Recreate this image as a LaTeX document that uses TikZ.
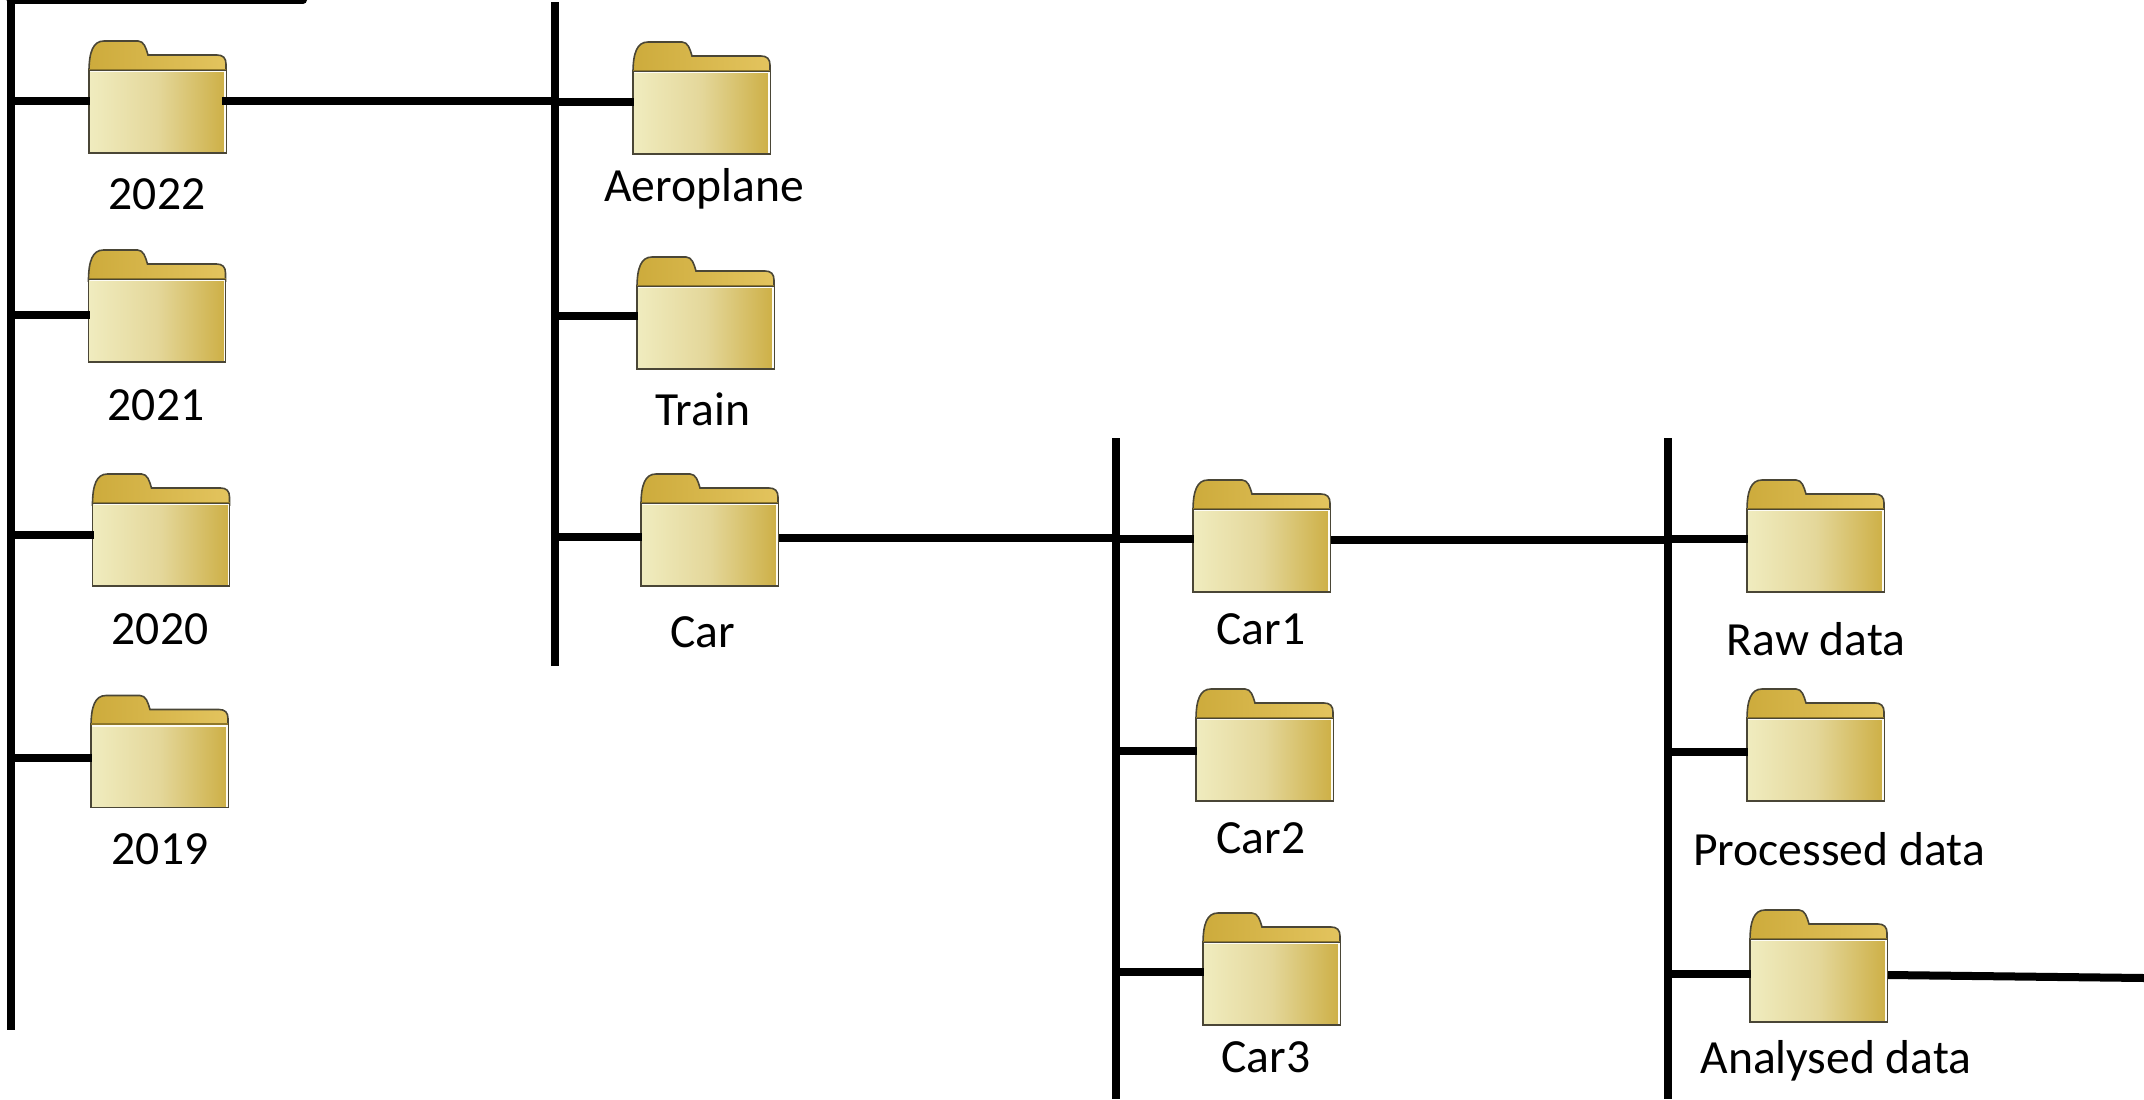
\documentclass[tikz,border=0pt]{standalone}
\usepackage{fontspec}
\setmainfont{Carlito}
\definecolor{foldL}{HTML}{F0ECBF}
\definecolor{foldM}{HTML}{E4D79A}
\definecolor{foldR}{HTML}{CDAF45}
\definecolor{tabA}{HTML}{CDAB3C}
\definecolor{tabB}{HTML}{E3C45E}
\definecolor{foldE}{HTML}{4A4636}
\tikzset{
  foldbox/.style={minimum width=69.5pt,minimum height=57pt,inner sep=0pt,outer sep=0pt,rectangle},
  foldtab/.style={left color=tabA,right color=tabB,draw=foldE,line width=0.8pt},
  foldbody/.style={left color=foldL,right color=foldR,middle color=foldM,draw=foldE,line width=0.8pt},
  folddiv/.style={color=tabA!70!black,line width=0.7pt},
  foldhi/.style={color=white!85!foldL,line width=0.6pt},
  lab/.style={font=\fontsize{23.8pt}{27pt}\selectfont,inner sep=0pt,text=black},
  bus/.style={line width=4pt,color=black},
  busr/.style={line width=4pt,color=black,line cap=round}
}
\newcommand{\fold}[3]{%
  \begin{scope}[shift={(#2,#3)}]
    \path[foldtab]
      (1,32) .. controls (1,12) and (5,1) .. (16,1) -- (50,1)
      .. controls (56,1) and (58,8) .. (60,15) -- (129,15)
      .. controls (135,15) and (138,18) .. (138,24) -- (138,32) -- cycle;
    \path[foldbody] (1,30) -- (138,30) -- (138,113) -- (1,113) -- cycle;
    \draw[folddiv] (1,29.5) -- (138,29.5);
    \draw[foldhi] (2,31.5) -- (137,31.5) -- (137,112);
  \end{scope}
  \node[foldbox] (#1) at ({#2+69.5},{#3+57}) {};}
\begin{document}
\begin{tikzpicture}[x=0.5pt,y=-0.5pt]
\useasboundingbox (0,0) rectangle (2144,1099);
% bus end points
\coordinate (a0) at (10.5,0); \coordinate (a1) at (10.5,1030); \coordinate (top) at (303,0);
\coordinate (b0) at (555,2); \coordinate (b1) at (555,666);
\coordinate (c0) at (1116,438); \coordinate (c1) at (1116,1099);
\coordinate (d0) at (1668,438); \coordinate (d1) at (1668,1099);
\coordinate (endr) at (2144,978);
% junctions
\coordinate (j22) at (10.5,101); \coordinate (j21) at (10.5,314.5); \coordinate (j20) at (10.5,535); \coordinate (j19) at (10.5,757.5);
\coordinate (jAe) at (555,102); \coordinate (jAi) at (555,101); \coordinate (jTr) at (555,316); \coordinate (jCa) at (555,537);
\coordinate (jC1) at (1116,539); \coordinate (jCi) at (1116,538); \coordinate (jC2) at (1116,751); \coordinate (jC3) at (1116,972);
\coordinate (jRa) at (1668,539); \coordinate (jRi) at (1668,540); \coordinate (jPr) at (1668,752); \coordinate (jAn) at (1668,973.5);
% buses
\draw[busr] (a0) -- (top);
\draw[bus] (a0) -- (a1);
\draw[bus] (b0) -- (b1);
\draw[bus] (c0) -- (c1);
\draw[bus] (d0) -- (d1);
% folders
\fold{f22}{88}{40}
\fold{f21}{87.5}{249}
\fold{f20}{91.5}{473}
\fold{f19}{90}{694.5}
\fold{fAe}{632}{41}
\fold{fTr}{636}{256}
\fold{fCa}{640}{473}
\fold{fC1}{1192}{479}
\fold{fC2}{1195}{688}
\fold{fC3}{1202}{912}
\fold{fRa}{1746}{479}
\fold{fPr}{1746}{688}
\fold{fAn}{1749}{909}
% connectors
\draw[bus] (j22) -- ([xshift=1pt]f22.west |- j22);
\draw[bus] (j21) -- ([xshift=1pt]f21.west |- j21);
\draw[bus] (j20) -- ([xshift=1pt]f20.west |- j20);
\draw[bus] (j19) -- ([xshift=1pt]f19.west |- j19);
\draw[bus] (jAe) -- ([xshift=1pt]fAe.west |- jAe);
\draw[bus] (jTr) -- ([xshift=1pt]fTr.west |- jTr);
\draw[bus] (jCa) -- ([xshift=1pt]fCa.west |- jCa);
\draw[bus] (jC1) -- ([xshift=1pt]fC1.west |- jC1);
\draw[bus] (jC2) -- ([xshift=1pt]fC2.west |- jC2);
\draw[bus] (jC3) -- ([xshift=1pt]fC3.west |- jC3);
\draw[bus] (jRa) -- ([xshift=1pt]fRa.west |- jRa);
\draw[bus] (jPr) -- ([xshift=1pt]fPr.west |- jPr);
\draw[bus] (jAn) -- ([xshift=1pt]fAn.west |- jAn);
\draw[bus] ([xshift=-2.5pt]f22.east |- jAi) -- (jAi);
\draw[bus] (fCa.east |- jCi) -- (jCi);
\draw[bus] (fC1.east |- jRi) -- (jRi);
\draw[bus] (fAn.east |- 0,975) -- (endr);
% labels
\node[lab] (t22) at (157,194) {2022};
\node[lab] (t21) at (156,405) {2021};
\node[lab] (t20) at (160,629) {2020};
\node[lab] (t19) at (160,849) {2019};
\node[lab] (tAe) at (704,189) {Aeroplane};
\node[lab] (tTr) at (703,409) {Train};
\node[lab] (tCa) at (703,632) {Car};
\node[lab] (tC1) at (1261,629) {Car1};
\node[lab] (tC2) at (1261,838) {Car2};
\node[lab] (tC3) at (1266,1057) {Car3};
\node[lab] (tRa) at (1816,639) {Raw data};
\node[lab] (tPr) at (1839,849) {Processed data};
\node[lab] (tAn) at (1836,1061) {Analysed data};
\end{tikzpicture}
\end{document}
